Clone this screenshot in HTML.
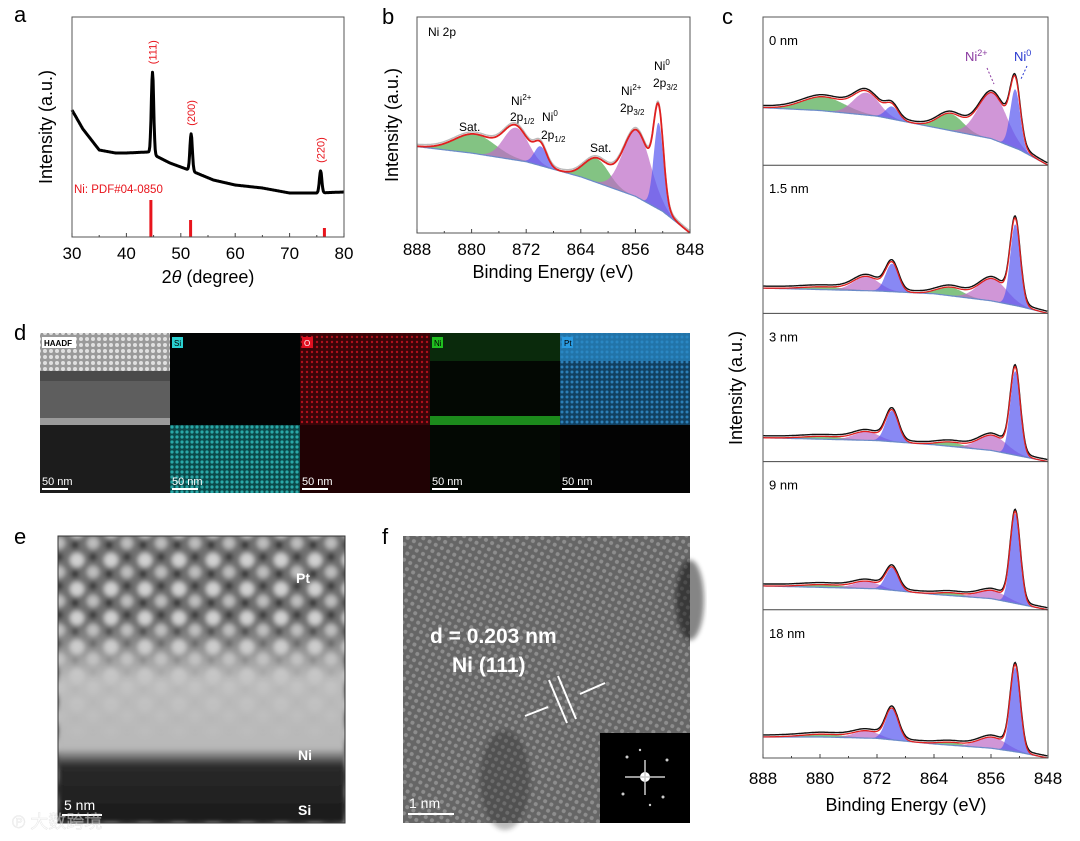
<!DOCTYPE html>
<html><head><meta charset="utf-8">
<style>
body{margin:0;background:#fff;}
svg text{font-family:"Liberation Sans","Noto Sans CJK SC",sans-serif;}
</style></head>
<body>
<svg id="fig" width="1080" height="836" viewBox="0 0 1080 836" xmlns="http://www.w3.org/2000/svg">
<defs>
  <pattern id="latt" width="7" height="7" patternUnits="userSpaceOnUse" patternTransform="rotate(28)">
    <rect width="7" height="7" fill="#6f6f6f"/><circle cx="3.5" cy="3.5" r="2" fill="#9a9a9a"/>
  </pattern>
  <pattern id="dotsR" width="5" height="5" patternUnits="userSpaceOnUse"><rect width="5" height="5" fill="#3a0508"/><circle cx="2" cy="2" r="1.2" fill="#b0101c"/></pattern>
  <pattern id="dotsC" width="5" height="5" patternUnits="userSpaceOnUse"><rect width="5" height="5" fill="#0c4a4a"/><circle cx="2" cy="2" r="1.6" fill="#2aa8a8"/></pattern>
  <pattern id="dotsB" width="5" height="5" patternUnits="userSpaceOnUse"><rect width="5" height="5" fill="#124060"/><circle cx="2" cy="2" r="1.5" fill="#2c7fb8"/></pattern>
  <pattern id="dotsW" width="6" height="6" patternUnits="userSpaceOnUse"><rect width="6" height="6" fill="#9a9a9a"/><circle cx="3" cy="3" r="2" fill="#e0e0e0"/></pattern>
  <pattern id="blobs" width="34" height="29" patternUnits="userSpaceOnUse"><rect width="34" height="29" fill="#707070"/><circle cx="9" cy="9" r="7" fill="#d0d0d0"/><circle cx="25" cy="21" r="6" fill="#bdbdbd"/><circle cx="25" cy="6" r="4" fill="#303030"/><circle cx="7" cy="23" r="4" fill="#2e2e2e"/></pattern>
  <filter id="blur2"><feGaussianBlur stdDeviation="2.5"/></filter>
  <clipPath id="eClip"><rect x="58" y="536" width="287" height="287"/></clipPath>
  <linearGradient id="eFade" x1="0" y1="0" x2="0" y2="1">
    <stop offset="0" stop-color="#c8c8c8" stop-opacity="0"/>
    <stop offset="0.3" stop-color="#c8c8c8" stop-opacity="0"/>
    <stop offset="0.5" stop-color="#c4c4c4" stop-opacity="0.9"/>
    <stop offset="0.74" stop-color="#b8b8b8" stop-opacity="1"/>
    <stop offset="0.8" stop-color="#2a2a2a" stop-opacity="1"/>
    <stop offset="1" stop-color="#1a1a1a" stop-opacity="1"/>
  </linearGradient>
</defs>

<text x="14" y="22" font-size="22">a</text>
<text x="382" y="24" font-size="22">b</text>
<text x="722" y="24" font-size="22">c</text>
<text x="14" y="340" font-size="22">d</text>
<text x="14" y="544" font-size="22">e</text>
<text x="382" y="544" font-size="22">f</text>

<g id="pa"></g>
<g id="pb"></g>
<g id="pc"></g>

<g>
  <g>
    <rect x="40" y="333" width="130" height="38" fill="url(#dotsW)"/>
    <rect x="40" y="371" width="130" height="54" fill="#5e5e5e"/>
    <rect x="40" y="371" width="130" height="10" fill="#4a4a4a"/>
    <rect x="40" y="418" width="130" height="7" fill="#9a9a9a"/>
    <rect x="40" y="425" width="130" height="68" fill="#1c1c1c"/>
  </g>
  <g>
    <rect x="170" y="333" width="130" height="92" fill="#020404"/>
    <rect x="170" y="425" width="130" height="68" fill="url(#dotsC)"/>
  </g>
  <g>
    <rect x="300" y="333" width="130" height="92" fill="url(#dotsR)"/>
    <rect x="300" y="425" width="130" height="68" fill="#200204"/>
  </g>
  <g>
    <rect x="430" y="333" width="130" height="160" fill="#030803"/>
    <rect x="430" y="333" width="130" height="28" fill="#0a2a0c"/>
    <rect x="430" y="416" width="130" height="9" fill="#1c8a1c"/>
  </g>
  <g>
    <rect x="560" y="333" width="130" height="92" fill="url(#dotsB)"/>
    <rect x="560" y="333" width="130" height="28" fill="#2a8ac8" opacity="0.7"/>
    <rect x="560" y="425" width="130" height="68" fill="#030303"/>
  </g>
  <rect x="42" y="337" width="34" height="11" fill="#fff"/><text x="44" y="346" font-size="8" font-weight="bold" fill="#000">HAADF</text>
  <rect x="172" y="337" width="11" height="11" fill="#2ad0d0"/><text x="174" y="346" font-size="8" fill="#000">Si</text>
  <rect x="302" y="337" width="11" height="11" fill="#e01020"/><text x="304" y="346" font-size="8" fill="#fff">O</text>
  <rect x="432" y="337" width="11" height="11" fill="#20c020"/><text x="434" y="346" font-size="8" fill="#000">Ni</text>
  <rect x="562" y="337" width="11" height="11" fill="#2a9ae0"/><text x="564" y="346" font-size="8" fill="#000">Pt</text>
  <g fill="#fff" font-size="11">
    <text x="42" y="485">50 nm</text><rect x="42" y="488" width="26" height="2"/>
    <text x="172" y="485">50 nm</text><rect x="172" y="488" width="26" height="2"/>
    <text x="302" y="485">50 nm</text><rect x="302" y="488" width="26" height="2"/>
    <text x="432" y="485">50 nm</text><rect x="432" y="488" width="26" height="2"/>
    <text x="562" y="485">50 nm</text><rect x="562" y="488" width="26" height="2"/>
  </g>
</g>

<g>
  <g clip-path="url(#eClip)">
    <rect x="50" y="530" width="300" height="300" fill="url(#blobs)" filter="url(#blur2)"/>
    <rect x="58" y="536" width="287" height="287" fill="url(#eFade)" filter="url(#blur2)"/>
  </g>
  <rect x="58" y="536" width="287" height="287" fill="none" stroke="#333" stroke-width="1"/>
  <text x="296" y="583" font-size="14" font-weight="bold" fill="#fff">Pt</text>
  <text x="298" y="760" font-size="14" font-weight="bold" fill="#fff">Ni</text>
  <text x="298" y="815" font-size="14" font-weight="bold" fill="#fff">Si</text>
  <text x="64" y="810" font-size="14" fill="#fff">5 nm</text>
  <rect x="62" y="814" width="40" height="2" fill="#fff"/>
</g>

<g>
  <rect x="403" y="536" width="287" height="287" fill="url(#latt)"/>
  <rect x="403" y="536" width="287" height="287" fill="#000" opacity="0.08"/>
  <ellipse cx="505" cy="780" rx="25" ry="50" fill="#222" opacity="0.3" filter="url(#blur2)"/>
  <ellipse cx="690" cy="600" rx="14" ry="40" fill="#111" opacity="0.5" filter="url(#blur2)"/>
  <text x="430" y="643" font-size="21" font-weight="bold" fill="#fff">d = 0.203 nm</text>
  <text x="452" y="672" font-size="21" font-weight="bold" fill="#fff">Ni (111)</text>
  <g stroke="#fff" stroke-width="2" fill="#fff">
    <line x1="549" y1="680" x2="567" y2="723"/><line x1="558" y1="676" x2="576" y2="719"/>
    <line x1="525" y1="716" x2="548" y2="707"/><line x1="605" y1="683" x2="580" y2="694"/>
  </g>
  <rect x="600" y="733" width="90" height="90" fill="#000"/>
  <circle cx="645" cy="777" r="5" fill="#fff"/>
  <line x1="625" y1="777" x2="665" y2="777" stroke="#ccc" stroke-width="1.5"/>
  <line x1="645" y1="760" x2="645" y2="795" stroke="#ccc" stroke-width="1.5"/>
  <g fill="#ccc"><circle cx="627" cy="757" r="1.5"/><circle cx="663" cy="797" r="1.5"/><circle cx="667" cy="760" r="1.5"/><circle cx="623" cy="794" r="1.5"/><circle cx="640" cy="750" r="1.2"/><circle cx="650" cy="805" r="1.2"/></g>
  <text x="409" y="808" font-size="14" fill="#fff">1 nm</text>
  <rect x="408" y="813" width="46" height="2" fill="#fff"/>
</g>
<text x="12" y="828" font-size="18" fill="#fff" opacity="0.5" stroke="#ccc" stroke-width="0.5">℗ 大数跨境</text>

<script>
// ---------- data: XRD (panel a) ----------
const xrdBgAngles = [30, 32, 35, 38, 40, 44, 48, 52, 56, 60, 65, 70, 75, 80];
const xrdBgValues = [127, 108, 87, 84, 84, 85, 74, 66, 57, 52, 49, 44, 44, 45];
const xrdPeakPos = [44.8, 51.9, 75.7];
const xrdPeakHeight = [82, 37, 22];
const xrdPeakLabels = ['(111)', '(200)', '(220)'];
const refStickPos = [44.5, 51.8, 76.4];
const refStickHeight = [37, 17, 9];
const xrdTicks = [30, 40, 50, 60, 70, 80];

// ---------- data: XPS ----------
const bgEnergies = [888, 880, 872, 864, 856, 852, 848];
const compNames = ['sat-2p12', 'ni2-2p12', 'ni0-2p12', 'sat-2p32', 'ni2-2p32', 'ni0-2p32'];
const compCenters = [879.5, 873.5, 869.9, 861.7, 855.8, 852.6];
const compSigma = [3.0, 1.8, 0.9, 1.8, 2.0, 0.7];
const compType = ['sat', 'ni2', 'ni0', 'sat', 'ni2', 'ni0'];
const bBaseline = [0.40, 0.37, 0.33, 0.26, 0.17, 0.10, 0.0];
const bAmps = [0.09, 0.15, 0.09, 0.11, 0.31, 0.40];
const cLabels = ['0 nm', '1.5 nm', '3 nm', '9 nm', '18 nm'];
const cBaselines = [
  [0.41, 0.39, 0.35, 0.27, 0.19, 0.11, 0.0],
  [0.18, 0.17, 0.16, 0.14, 0.09, 0.05, 0.0],
  [0.17, 0.16, 0.15, 0.12, 0.08, 0.04, 0.0],
  [0.17, 0.16, 0.15, 0.11, 0.08, 0.04, 0.0],
  [0.15, 0.15, 0.14, 0.10, 0.07, 0.04, 0.0]
];
const cAmps = [
  [0.10, 0.16, 0.09, 0.12, 0.33, 0.42],
  [0.02, 0.10, 0.20, 0.06, 0.16, 0.58],
  [0.02, 0.06, 0.22, 0.03, 0.11, 0.60],
  [0.02, 0.05, 0.16, 0.02, 0.06, 0.64],
  [0.02, 0.05, 0.22, 0.02, 0.08, 0.60]
];
const xpsTicks = [888, 880, 872, 864, 856, 848];

const NS = 'http://www.w3.org/2000/svg';
function mk(tag, attrs, parent) {
  const e = document.createElementNS(NS, tag);
  for (const k in attrs) e.setAttribute(k, attrs[k]);
  parent.appendChild(e);
  return e;
}
// rich text: parts = [[text, dy, fontSize, fontStyle]]
function rich(t, parts) {
  parts.forEach(p => {
    const s = mk('tspan', {}, t);
    if (p[1]) s.setAttribute('dy', p[1]);
    if (p[2]) s.setAttribute('font-size', p[2]);
    if (p[3]) s.setAttribute('font-style', p[3]);
    s.textContent = p[0];
  });
}
function interp(xs, ys, x) {
  if (xs[0] < xs[xs.length - 1]) {
    for (let i = 0; i < xs.length - 1; i++) if (x >= xs[i] && x <= xs[i + 1]) return ys[i] + (ys[i + 1] - ys[i]) * (x - xs[i]) / (xs[i + 1] - xs[i]);
    return x < xs[0] ? ys[0] : ys[ys.length - 1];
  } else {
    for (let i = 0; i < xs.length - 1; i++) if (x <= xs[i] && x >= xs[i + 1]) return ys[i] + (ys[i + 1] - ys[i]) * (xs[i] - x) / (xs[i] - xs[i + 1]);
    return x > xs[0] ? ys[0] : ys[ys.length - 1];
  }
}
const gauss = (x, c, s) => Math.exp(-0.5 * ((x - c) / s) ** 2);

// ---------- panel a ----------
(function () {
  const g = document.getElementById('pa');
  const L = 72, R = 344, T = 17, B = 237;
  const X = a => L + (a - 30) / 50 * (R - L);
  const Y = v => B - v;
  let d = '';
  for (let a = 30; a <= 80; a += 0.1) {
    let v = interp(xrdBgAngles, xrdBgValues, a);
    xrdPeakPos.forEach((p, i) => { v += xrdPeakHeight[i] * gauss(a, p, 0.22); });
    d += (d ? 'L' : 'M') + X(a).toFixed(1) + ',' + Y(v).toFixed(1);
  }
  const line = mk('path', { d: d, fill: 'none', stroke: '#000', 'stroke-width': 3, 'stroke-linejoin': 'round' }, g);
  
  
  refStickPos.forEach((p, i) => {
    const r = mk('rect', { x: X(p) - 1.5, y: Y(refStickHeight[i]), width: 3, height: refStickHeight[i], fill: '#e8141c' }, g);
    
    
  });
  xrdPeakPos.forEach((p, i) => {
    const bg = interp(xrdBgAngles, xrdBgValues, p);
    const y = Y(bg + xrdPeakHeight[i]) - 8;
    const t = mk('text', { x: 0, y: 0, 'font-size': 11, fill: '#e8141c', transform: `translate(${X(p) + 4},${y}) rotate(-90)` }, g);
    t.textContent = xrdPeakLabels[i];
    
    
  });
  const pdf = mk('text', { x: 74, y: 193, 'font-size': 11.5, fill: '#e8141c' }, g);
  pdf.textContent = 'Ni: PDF#04-0850';
  
  
  mk('line', { x1: L, y1: 200, x2: L, y2: B, stroke: '#999', 'stroke-width': 1 }, g);
  const fr = mk('rect', { x: L, y: T, width: R - L, height: B - T, fill: 'none', stroke: '#555', 'stroke-width': 1 }, g);
  
  
  for (let a = 30; a <= 80; a += 5) mk('line', { x1: X(a), y1: B, x2: X(a), y2: B - (a % 10 ? 2 : 4), stroke: '#444' }, g);
  xrdTicks.forEach(a => {
    const t = mk('text', { x: X(a), y: 259, 'font-size': 17, 'text-anchor': 'middle' }, g);
    t.textContent = a;
    
    
  });
  const xt = mk('text', { x: 208, y: 283, 'font-size': 18, 'text-anchor': 'middle' }, g);
  rich(xt, [['2', 0, 0, ''], ['θ', 0, 0, 'italic'], [' (degree)', 0, 0, '']]);
  
  
  const yt = mk('text', { x: 0, y: 0, 'font-size': 18, 'text-anchor': 'middle', transform: 'translate(52,127) rotate(-90)' }, g);
  yt.textContent = 'Intensity (a.u.)';
  
  
})();

const compFill = { sat: 'rgba(90,175,90,0.75)', ni2: 'rgba(190,110,200,0.72)', ni0: 'rgba(90,90,240,0.72)' };
function drawXps(g, L, R, T, B, base, amps, opts) {
  const X = e => L + (888 - e) / 40 * (R - L);
  const H = B - T;
  const Y = v => B - v * H;
  const es = [];
  for (let e = 888; e >= 848; e -= 0.1) es.push(e);
  compCenters.forEach((c, i) => {
    let top = '', bot = '';
    es.forEach(e => {
      const b = interp(bgEnergies, base, e);
      top += (top ? 'L' : 'M') + X(e).toFixed(1) + ',' + Y(b + amps[i] * gauss(e, c, compSigma[i])).toFixed(1);
    });
    for (let k = es.length - 1; k >= 0; k--) bot += 'L' + X(es[k]).toFixed(1) + ',' + Y(interp(bgEnergies, base, es[k])).toFixed(1);
    const p = mk('path', { d: top + bot + 'Z', fill: compFill[compType[i]] }, g);
    
    
  });
  let bd = '';
  es.forEach(e => { bd += (bd ? 'L' : 'M') + X(e).toFixed(1) + ',' + Y(interp(bgEnergies, base, e)).toFixed(1); });
  const bl = mk('path', { d: bd, fill: 'none', stroke: '#6a8ac8', 'stroke-width': 1.2 }, g);
  
  
  let ed = '';
  es.forEach(e => {
    let v = interp(bgEnergies, base, e);
    compCenters.forEach((c, i) => { v += amps[i] * gauss(e, c, compSigma[i]); });
    ed += (ed ? 'L' : 'M') + X(e).toFixed(1) + ',' + Y(v).toFixed(1);
  });
  if (opts.raw) {
    const rw = mk('path', { d: ed, fill: 'none', stroke: opts.raw, 'stroke-width': 1.4, transform: 'translate(0,-2)' }, g);
    
    
  }
  const en = mk('path', { d: ed, fill: 'none', stroke: '#e02020', 'stroke-width': opts.redW || 1.5 }, g);
  
  
  return X;
}

// ---------- panel b ----------
(function () {
  const g = document.getElementById('pb');
  const L = 417, R = 690, T = 17, B = 233;
  const X = drawXps(g, L, R, T, B, bBaseline, bAmps, { raw: '#bbbbbb', redW: 1.8 });
  const fr = mk('rect', { x: L, y: T, width: R - L, height: B - T, fill: 'none', stroke: '#555' }, g);
  
  
  for (let e = 888; e >= 848; e -= 4) mk('line', { x1: X(e), y1: B, x2: X(e), y2: B - ((888 - e) % 8 ? 2 : 4), stroke: '#444' }, g);
  xpsTicks.forEach(e => {
    const t = mk('text', { x: X(e), y: 255, 'font-size': 17, 'text-anchor': 'middle' }, g);
    t.textContent = e;
    
    
  });
  const xt = mk('text', { x: 553, y: 278, 'font-size': 18, 'text-anchor': 'middle' }, g);
  xt.textContent = 'Binding Energy (eV)';
  
  
  const yt = mk('text', { x: 0, y: 0, 'font-size': 18, 'text-anchor': 'middle', transform: 'translate(398,125) rotate(-90)' }, g);
  yt.textContent = 'Intensity (a.u.)';
  
  
  const ann = [
    [428, 36, [['Ni 2p']]],
    [459, 131, [['Sat.']]],
    [511, 105, [['Ni'], ['2+', -5, 8]]],
    [510, 121, [['2p'], ['1/2', 3, 8]]],
    [542, 121, [['Ni'], ['0', -5, 8]]],
    [541, 139, [['2p'], ['1/2', 3, 8]]],
    [590, 152, [['Sat.']]],
    [621, 95, [['Ni'], ['2+', -5, 8]]],
    [620, 112, [['2p'], ['3/2', 3, 8]]],
    [654, 70, [['Ni'], ['0', -5, 8]]],
    [653, 87, [['2p'], ['3/2', 3, 8]]]
  ];
  ann.forEach(a => {
    const t = mk('text', { x: a[0], y: a[1], 'font-size': 12 }, g);
    rich(t, a[2]);
    
    
  });
})();

// ---------- panel c ----------
(function () {
  const g = document.getElementById('pc');
  const L = 763, R = 1048, T0 = 17, PH = 148.2;
  let X;
  cLabels.forEach((lab, k) => {
    const T = T0 + k * PH, B = T + PH;
    const sub = mk('g', {}, g);
    
    
    X = drawXps(sub, L, R, T + 8, B, cBaselines[k], cAmps[k], { raw: '#111', redW: 1.3 });
    const t = mk('text', { x: 769, y: T + 28, 'font-size': 13 }, sub);
    t.textContent = lab;
    
    
    mk('line', { x1: L, y1: B, x2: R, y2: B, stroke: '#444' }, g);
  });
  const B = T0 + 5 * PH;
  const fr = mk('rect', { x: L, y: T0, width: R - L, height: B - T0, fill: 'none', stroke: '#555' }, g);
  
  
  for (let e = 888; e >= 848; e -= 4) mk('line', { x1: X(e), y1: B, x2: X(e), y2: B - ((888 - e) % 8 ? 2 : 4), stroke: '#444' }, g);
  xpsTicks.forEach(e => {
    const t = mk('text', { x: X(e), y: 784, 'font-size': 17, 'text-anchor': 'middle' }, g);
    t.textContent = e;
    
    
  });
  const xt = mk('text', { x: 906, y: 811, 'font-size': 18, 'text-anchor': 'middle' }, g);
  xt.textContent = 'Binding Energy (eV)';
  
  
  const yt = mk('text', { x: 0, y: 0, 'font-size': 18, 'text-anchor': 'middle', transform: 'translate(742,388) rotate(-90)' }, g);
  yt.textContent = 'Intensity (a.u.)';
  
  
  const n2 = mk('text', { x: 965, y: 61, 'font-size': 13, fill: '#8a3aa0' }, g);
  rich(n2, [['Ni'], ['2+', -5, 9]]);
  
  
  const n0 = mk('text', { x: 1014, y: 61, 'font-size': 13, fill: '#2a3ad0' }, g);
  rich(n0, [['Ni'], ['0', -5, 9]]);
  
  
  mk('line', { x1: 987, y1: 68, x2: 994, y2: 84, stroke: '#8a3aa0', 'stroke-dasharray': '2,2' }, g);
  mk('line', { x1: 1027, y1: 66, x2: 1021, y2: 79, stroke: '#2a3ad0', 'stroke-dasharray': '2,2' }, g);
})();
</script>
</svg>
</body></html>
